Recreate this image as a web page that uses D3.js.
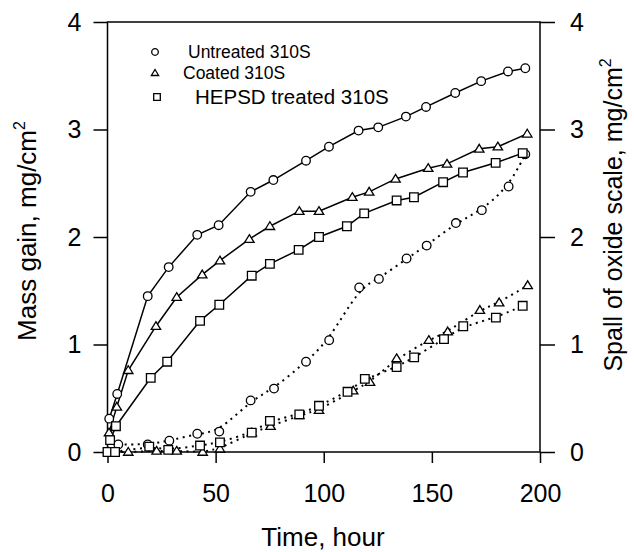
<!DOCTYPE html>
<html>
<head>
<meta charset="utf-8">
<script src="https://cdn.jsdelivr.net/npm/d3@7"></script>
<style>
  body { margin: 0; background: #fff; }
  svg text { font-family: Arial, "Liberation Sans", sans-serif; fill: #000; }
</style>
</head>
<body>
<svg id="chart" width="634" height="552"></svg>
<script>
// mass gain (left axis), solid lines
var untreatedMassTime = [0.8,4.5,18.6,28.3,41.5,51.4,66.2,76.7,91.8,102.4,116.1,125.2,138,147.3,160.8,172.8,185.2,193.2];
var untreatedMass     = [0.31,0.54,1.45,1.72,2.02,2.11,2.42,2.53,2.71,2.84,2.99,3.02,3.12,3.21,3.34,3.45,3.54,3.57];

var coatedMassTime = [0.7,4.3,9.6,22.4,32,43.8,52,65.6,75.1,88.7,97.8,113.2,121,133.2,148.3,157,171.9,180.5,194.1];
var coatedMass     = [0.18,0.42,0.76,1.17,1.44,1.65,1.78,1.98,2.10,2.24,2.24,2.37,2.42,2.54,2.64,2.68,2.82,2.84,2.96];

var hepsdMassTime = [1.2,3.9,20,27.6,42.8,51.7,66.7,75.1,88.4,97.8,110.7,118.7,133.7,141.7,155.2,164.4,179.5,192];
var hepsdMass     = [0.11,0.24,0.69,0.84,1.22,1.37,1.64,1.75,1.88,2.0,2.10,2.22,2.34,2.37,2.51,2.60,2.69,2.78];

// spall of oxide scale (right axis), dotted lines
var untreatedSpallTime = [5,18.6,28.6,41.5,51.7,66.2,77,91.8,102.5,116.4,125.5,138.3,147.6,161.1,173.1,185.5,193.2];
var untreatedSpall     = [0.07,0.07,0.105,0.17,0.19,0.48,0.59,0.84,1.04,1.53,1.61,1.80,1.92,2.13,2.25,2.47,2.77];

var coatedSpallTime = [0.5,9.6,22.7,32,44,52,66.7,75.4,88.7,97.8,113.6,121.4,133.7,148.6,157.3,172.2,181.1,194.3];
var coatedSpall     = [0,0,0.01,0.01,0,0.03,0.18,0.24,0.34,0.39,0.57,0.65,0.87,1.04,1.12,1.32,1.39,1.55];

var hepsdSpallTime = [0,3.5,19.3,28.1,42.8,52,66.7,75.1,88.7,97.8,111,119,133.7,141.8,155.6,164.5,179.6,192];
var hepsdSpall     = [0,0,0.05,0.02,0.06,0.09,0.18,0.29,0.35,0.43,0.56,0.68,0.79,0.88,1.05,1.17,1.25,1.36];

var xTicks = [0,50,100,150,200];
var yTicks = [0,1,2,3,4];
var legendNames = ["Untreated 310S","Coated 310S","HEPSD treated 310S"];

var margin = {top: 22, right: 94, bottom: 100, left: 107.5},
    width = 634 - margin.left - margin.right,
    height = 552 - margin.top - margin.bottom;

var svg = d3.select("#chart");
var chart = svg.append("g")
    .attr("transform", "translate(" + margin.left + "," + margin.top + ")");

var x = d3.scaleLinear().domain([0, 200]).range([0, width]);
var yL = d3.scaleLinear().domain([0, 4]).range([height, 0]);
var yR = d3.scaleLinear().domain([0, 4]).range([height, 0]);

// axes
var fmt = d3.format("d");
var axB = chart.append("g")
    .attr("transform", "translate(0," + height + ")")
    .call(d3.axisBottom(x).tickValues(xTicks).tickFormat(fmt).tickSize(11).tickPadding(21));
var axL = chart.append("g")
    .call(d3.axisLeft(yL).tickValues(yTicks).tickFormat(fmt).tickSize(14).tickPadding(12));
var axR = chart.append("g")
    .attr("transform", "translate(" + width + ",0)")
    .call(d3.axisRight(yR).tickValues(yTicks).tickFormat(fmt).tickSize(15).tickPadding(15));

[axB, axL, axR].forEach(function(a) {
  a.select(".domain").remove();
  a.selectAll("line").attr("stroke", "#000").attr("stroke-width", 1.5);
  a.selectAll("text").attr("font-size", 25).style("font-family", "Arial, 'Liberation Sans', sans-serif");
});

// frame
chart.append("rect")
    .attr("x", 0).attr("y", 0)
    .attr("width", width).attr("height", height)
    .attr("fill", "none").attr("stroke", "#000").attr("stroke-width", 1.5);

function pts(ts, vs) {
  return ts.map(function(t, i) { return {t: t, v: vs[i]}; });
}

var solid = d3.line()
    .x(function(d) { return x(d.t); })
    .y(function(d) { return yL(d.v); });
var dotted = d3.line()
    .curve(d3.curveBasis)
    .x(function(d) { return x(d.t); })
    .y(function(d) { return yR(d.v); });

var series = [
  {data: pts(untreatedSpallTime, untreatedSpall), line: dotted, y: yR, sym: "circle"},
  {data: pts(coatedSpallTime, coatedSpall), line: dotted, y: yR, sym: "triangle"},
  {data: pts(hepsdSpallTime, hepsdSpall), line: dotted, y: yR, sym: "square"},
  {data: pts(untreatedMassTime, untreatedMass), line: solid, y: yL, sym: "circle"},
  {data: pts(coatedMassTime, coatedMass), line: solid, y: yL, sym: "triangle"},
  {data: pts(hepsdMassTime, hepsdMass), line: solid, y: yL, sym: "square"}
];

function symPath(sym, s) {
  if (sym == "triangle") return "M0," + (-s * 1.05) + "L" + (s * 1.1) + "," + (s * 0.75) + "L" + (-s * 1.1) + "," + (s * 0.75) + "Z";
  if (sym == "square") return "M" + (-s) + "," + (-s) + "h" + (2 * s) + "v" + (2 * s) + "h" + (-2 * s) + "Z";
  return d3.arc()({innerRadius: 0, outerRadius: s, startAngle: 0, endAngle: 2 * Math.PI});
}

// lines first
series.forEach(function(s) {
  var p = chart.append("path")
      .datum(s.data)
      .attr("d", s.line)
      .attr("fill", "none")
      .attr("stroke", "#000");
  if (s.line === dotted) {
    p.attr("stroke-width", 2).attr("stroke-dasharray", "2,4.5");
  } else {
    p.attr("stroke-width", 1.5);
  }
});

// then markers
series.forEach(function(s) {
  chart.selectAll(null)
      .data(s.data)
      .enter()
      .append("path")
      .attr("transform", function(d) { return "translate(" + x(d.t) + "," + s.y(d.v) + ")"; })
      .attr("d", symPath(s.sym, 4.3))
      .attr("fill", "#fff")
      .attr("stroke", "#000")
      .attr("stroke-width", 1.3);
});

// legend
var legendSyms = ["circle", "triangle", "square"];
var legendPos = [{sx: 155, sy: 52, tx: 188, ty: 52, fs: 17.5},
                 {sx: 155, sy: 73, tx: 183, ty: 73, fs: 17.5},
                 {sx: 157, sy: 97, tx: 195, ty: 97, fs: 20.5}];
legendNames.forEach(function(n, i) {
  var lp = legendPos[i];
  svg.append("path")
      .attr("transform", "translate(" + lp.sx + "," + lp.sy + ")")
      .attr("d", symPath(legendSyms[i], 3.3))
      .attr("fill", "#fff").attr("stroke", "#000").attr("stroke-width", 1.3);
  svg.append("text")
      .attr("x", lp.tx).attr("y", lp.ty)
      .attr("dy", "0.36em")
      .attr("font-size", lp.fs)
      .text(n);
});

// axis titles
svg.append("text")
    .attr("x", 323).attr("y", 546)
    .attr("text-anchor", "middle")
    .attr("font-size", 26)
    .text("Time, hour");

var tl = svg.append("text")
    .attr("transform", "translate(36,231) rotate(-90)")
    .attr("text-anchor", "middle")
    .attr("font-size", 26);
tl.append("tspan").text("Mass gain, mg/cm");
tl.append("tspan").attr("font-size", 16).attr("dy", -11).text("2");

var tr = svg.append("text")
    .attr("transform", "translate(622,215) rotate(-90)")
    .attr("text-anchor", "middle")
    .attr("font-size", 25);
tr.append("tspan").text("Spall of oxide scale, mg/cm");
tr.append("tspan").attr("font-size", 16).attr("dy", -11).text("2");
</script>
</body>
</html>
